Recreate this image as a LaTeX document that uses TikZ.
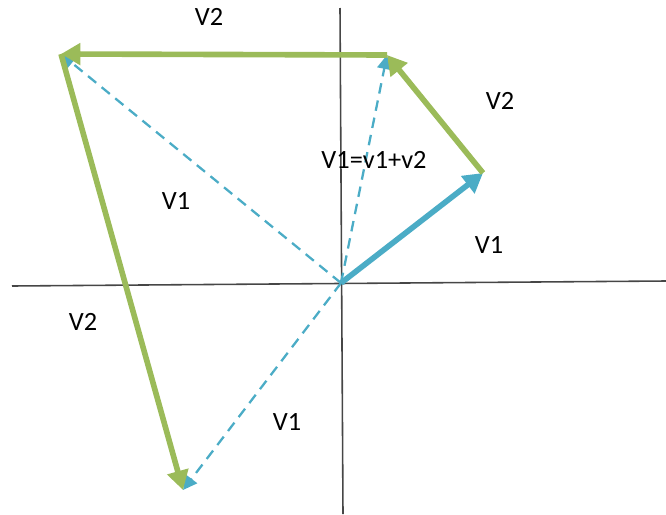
\documentclass[tikz,border=0pt]{standalone}
\usepackage{fontspec}
\setmainfont{Carlito}
\usepackage{xcolor}
\usetikzlibrary{arrows.meta, positioning}

\definecolor{vgreen}{RGB}{155,187,89}
\definecolor{vblue}{RGB}{75,172,198}
\definecolor{axisgray}{RGB}{70,70,70}

\begin{document}
\begin{tikzpicture}[x=0.02cm, y=-0.02cm, font=\fontsize{15}{18}\selectfont]
    % Styles
    \tikzstyle{axis} = [draw=axisgray, line width=0.9pt]
    \tikzstyle{vecA} = [draw=vblue, line width=3.2pt, -{Triangle[width=12pt,length=11pt]}]
    \tikzstyle{vecB} = [draw=vgreen, line width=3.2pt, -{Triangle[width=12pt,length=11pt]}]
    \tikzstyle{sum} = [draw=vblue, line width=1.3pt, dashed, dash pattern=on 6pt off 4pt, -{Triangle[width=8pt,length=8pt]}]
    \tikzstyle{lbl} = [inner sep=0pt, text=black]

    \useasboundingbox (0,0) rectangle (666,514);

    % Points
    \coordinate (O) at (341,283);
    \coordinate (A) at (483,173);
    \coordinate (B) at (387,55);
    \coordinate (C) at (61,54);
    \coordinate (D) at (183,490);

    % Axes
    \draw [axis] (12,286) -- (666,281);
    \draw [axis] (340,8) -- (343,514);

    % Dashed sums
    \draw [sum] (O) -- (B);
    \draw [sum] (O) -- (C);
    \draw [sum] (O) -- (D);

    % Vectors
    \draw [vecA] (O) -- (A);
    \draw [vecB] (A) -- (B);
    \draw [vecB] (B) -- (C);
    \draw [vecB] (C) -- (D);

    % Labels
    \node [lbl] (topv2) at (209,17) {V2};
    \node [lbl] (rightv2) at (500,101) {V2};
    \node [lbl] (sumlbl) at (374,160) {V1=v1+v2};
    \node [lbl] (leftv1) at (176,201) {V1};
    \node [lbl] (rightv1) at (489,245) {V1};
    \node [lbl] (leftv2) at (83,322) {V2};
    \node [lbl] (lowv1) at (287,422) {V1};
\end{tikzpicture}
\end{document}
